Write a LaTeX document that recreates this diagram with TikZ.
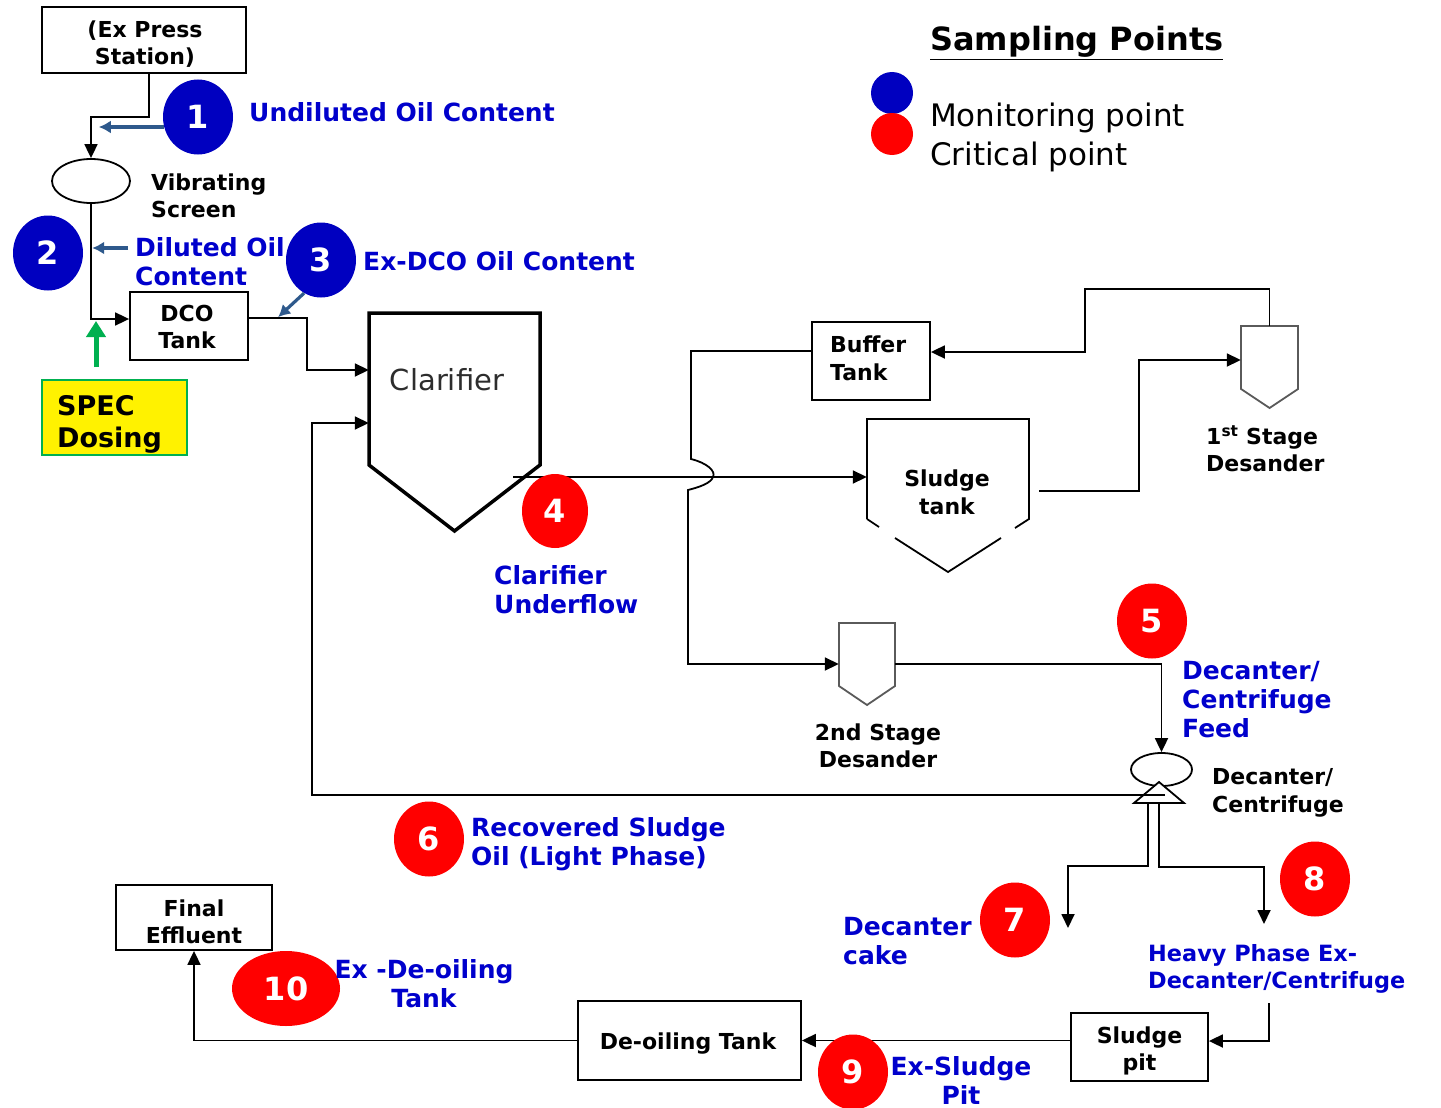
\documentclass[tikz,border=0pt]{standalone}
\usepackage{fontspec}
\setmainfont{DejaVu Sans}
\usetikzlibrary{arrows.meta,calc,shapes.geometric}
\definecolor{lblue}{RGB}{0,0,204}
\definecolor{cblue}{RGB}{0,0,192}
\definecolor{ablue}{RGB}{46,89,140}
\definecolor{cred}{RGB}{255,0,0}
\definecolor{sgreen}{RGB}{0,176,80}
\definecolor{dgray}{RGB}{90,90,90}
\definecolor{tgray}{RGB}{45,45,45}
\newcommand\fblk{\fontsize{22}{27.5}\selectfont\bfseries}
\newcommand\fblu{\fontsize{25}{29}\selectfont\bfseries}
\newcommand\fnum{\fontsize{32}{32}\selectfont\bfseries}
\begin{document}
\begin{tikzpicture}[x=1pt,y=-1pt,
  pipe/.style={line width=1.8pt},
  flow/.style={line width=1.8pt,-{Triangle[length=14pt,width=13pt]}},
  sflow/.style={line width=3.2pt,ablue,-{Latex[length=12pt,width=13pt]}},
  box/.style={draw,line width=1.8pt,fill=white,inner sep=0pt},
  btxt/.style={inner sep=0pt,align=center,font=\fblk},
  hidden/.style={inner sep=0pt},
  mpt/.style={ellipse,fill=cblue,text=white,font=\fnum,inner sep=0pt,minimum width=70pt,minimum height=75pt},
  cpt/.style={mpt,fill=cred},
  lbl/.style={text=lblue,font=\fblu,inner sep=0pt,align=left,anchor=west},
  tlbl/.style={font=\fblk,inner sep=0pt,align=left,anchor=west},
  vessel/.style={line width=1.8pt,draw=dgray},
]
\useasboundingbox[fill=white] (0,0) rectangle (1441,1108);

% helper levels
\coordinate (y319) at (0,319);
\coordinate (y370) at (0,370);
\coordinate (y423) at (0,423);
\coordinate (y477) at (0,477);
\coordinate (y360) at (0,360);

% ---------- boxes and vessels ----------
\node[box,minimum width=204pt,minimum height=66pt] (exp) at (144,40) {};
\node[btxt] (expt) at (145,44) {(Ex Press\\Station)};
\node[draw,ellipse,line width=1.8pt,fill=white,minimum width=78pt,minimum height=44pt,inner sep=0pt] (vs) at (91,181) {};
\node[tlbl] (vsl) at (151,196) {Vibrating\\Screen};
\node[box,minimum width=118pt,minimum height=68pt] (dco) at (189,326) {};
\node[btxt] (dcot) at (187,327) {DCO\\Tank};
\node[draw=sgreen,line width=2pt,fill=yellow,minimum width=145pt,minimum height=75pt,inner sep=0pt] (spec) at (114.5,417.5) {};
\node[hidden,anchor=west,align=left,font=\fontsize{27}{32}\selectfont\bfseries] (spect) at (57,424) {SPEC\\Dosing};

% clarifier
\node[hidden,minimum width=171pt,minimum height=218pt] (clar) at (454.5,422) {};
\draw[line width=3.5pt,line join=miter] (369,313) -- (540,313) -- (540,465) -- (454.5,531) -- (369,465) -- cycle;
\node[hidden,text=tgray,font=\fontsize{29}{30}\selectfont] (clart) at (447,380) {Clarifier};

% buffer tank
\node[box,minimum width=118pt,minimum height=78pt] (buf) at (871,361) {};
\node[tlbl] (buft) at (830,358.5) {Buffer\\Tank};

% sludge tank
\node[hidden,minimum width=162pt,minimum height=153pt] (stank) at (948,495.5) {};
\node[btxt] (stankt) at (947,492.5) {Sludge\\tank};
\draw[pipe] (867,519) -- (867,419) -- (1029,419) -- (1029,519) -- (1015,528);
\draw[pipe] (867,519) -- (879,527);
\draw[pipe] (895,538) -- (948,572) -- (1001,538);

% 1st stage desander
\node[hidden,minimum width=57pt,minimum height=82pt] (des1) at (1269.5,367) {};
\draw[vessel] (1241,326) -- (1298,326) -- (1298,389) -- (1269.5,408) -- (1241,389) -- cycle;
\node[tlbl] (des1l) at (1206,449) {1\textsuperscript{st} Stage\\Desander};

% 2nd stage desander
\node[hidden,minimum width=56pt,minimum height=82pt] (des2) at (867,664) {};
\draw[vessel] (839,623) -- (895,623) -- (895,686) -- (867,705) -- (839,686) -- cycle;
\node[tlbl,align=center,anchor=center] (des2l) at (878,746) {2nd Stage\\Desander};

% decanter
\node[draw,ellipse,line width=1.8pt,minimum width=61pt,minimum height=33pt,inner sep=0pt] (dec) at (1161.5,769.5) {};
\node[tlbl] (decl) at (1212,793) {Decanter/\\Centrifuge};

% bottom boxes
\node[box,minimum width=137pt,minimum height=68pt] (spit) at (1139.5,1047) {};
\node[btxt] (spitt) at (1139.5,1051) {Sludge\\pit};
\node[box,minimum width=223pt,minimum height=79pt] (deo) at (689.5,1040.5) {};
\node[btxt] (deot) at (688,1044) {De-oiling Tank};
\node[box,minimum width=156pt,minimum height=65pt] (fe) at (194,917.5) {};
\node[btxt] (fet) at (194,922) {Final\\Effluent};

% ---------- connectors ----------
\draw[flow] ($(exp.south)+(5,0)$) -- ++(0,43) -| (vs.north);
\draw[flow] (vs.south) |- (dco.west |- y319);
\draw[flow] ($(dco.east)+(0,-8)$) -- ++(58,0) |- (clar.west |- y370);
\coordinate (rec) at (1165,795);
\coordinate (uf) at (513,477);
\draw[flow] (uf) -- (stank.west |- y477);
\draw[flow] ($(buf.west)+(0,-10)$) -- (691,351) -- (691,459)
   .. controls (707,463) and (716,471) .. (713,477)
   .. controls (711,483) and (700,487) .. (688,490) -- (688,664) -- (des2.west);
\draw[flow] (des1.north) -- ++(0,-37) -| (1085,352) -- ($(buf.east)+(0,-9)$);
\draw[flow] ($(stank.east)+(10,-4.5)$) -| (1139,360) -- (des1.west |- y360);
\draw[flow] (des2.east) -| (dec.north);
\draw[pipe,fill=white] (1159,782) -- (1184,803) -- (1134,803) -- cycle;
\draw[flow] (rec) -| (312,423) -- (clar.west |- y423);
\coordinate (cake) at (1068,928);
\coordinate (heavy) at (1264,924);
\draw[flow] (1148,803) -- (1148,866) -| (cake);
\draw[flow] (1159,803) -- (1159,867) -| (heavy);
\coordinate (hp) at (1269,1003);
\draw[flow] (hp) |- ($(spit.east)+(0,-6)$);
\draw[flow] (spit.west |- deo.east) -- (deo.east);
\draw[flow] (deo.west) -| (fe.south);

% ---------- sampling points ----------
\node[mpt] (p1) at (198,117) {1};
\node[mpt] (p2) at (48,253) {2};
\node[mpt] (p3) at (321,260) {3};
\node[cpt,minimum width=66pt,minimum height=74pt] (p4) at (555,511) {4};
\node[cpt] (p5) at (1152,621) {5};
\node[cpt] (p6) at (429,839) {6};
\node[cpt] (p7) at (1015,920) {7};
\node[cpt] (p8) at (1315,879) {8};
\node[cpt] (p9) at (853,1072) {9};
\node[cpt,minimum width=108pt] (p10) at (286,988.5) {10};

\draw[sflow] ($(p1.west)+(1,10)$) -- ++(-65,0);
\draw[sflow] ($(p2.east)+(45,-5)$) -- ++(-36,0);
\draw[sflow] (p3.243) -- ++(-26,24);
\draw[line width=5pt,sgreen,-{Triangle[length=16pt,width=19pt]}] ($(spec.north)+(-18.5,-12)$) -- ++(0,-46);

% ---------- labels ----------
\node[lbl] (l1) at (249,112) {Undiluted Oil Content};
\node[lbl] (l2) at (135,262) {Diluted Oil\\Content};
\node[lbl] (l3) at (363,261) {Ex-DCO Oil Content};
\node[lbl] (l4) at (494,590) {Clarifier\\Underflow};
\node[lbl] (l5) at (1182,700) {Decanter/\\Centrifuge\\Feed};
\node[lbl] (l6) at (471,844) {Recovered Sludge\\Oil (Light Phase)};
\node[lbl] (l7) at (843,941) {Decanter\\cake};
\node[lbl,font=\fontsize{22.4}{27}\selectfont\bfseries] (l8) at (1148,969) {Heavy Phase Ex-\\Decanter/Centrifuge};
\node[lbl,align=center,anchor=center] (l9) at (961,1080) {Ex-Sludge\\Pit};
\node[lbl,align=center,anchor=center] (l10) at (424,984) {Ex -De-oiling\\Tank};

% ---------- legend ----------
\node[hidden,anchor=west,font=\fontsize{32}{36}\selectfont\bfseries] (lt) at (930,43) {\underline{Sampling Points}};
\node[circle,fill=cblue,minimum size=42pt,inner sep=0pt] (lgb) at (892,93) {};
\node[circle,fill=cred,minimum size=42pt,inner sep=0pt] (lgr) at (892,134) {};
\node[hidden,anchor=west,align=left,font=\fontsize{31}{39}\selectfont] (lgt) at (930,137) {Monitoring point\\Critical point};
\end{tikzpicture}
\end{document}
